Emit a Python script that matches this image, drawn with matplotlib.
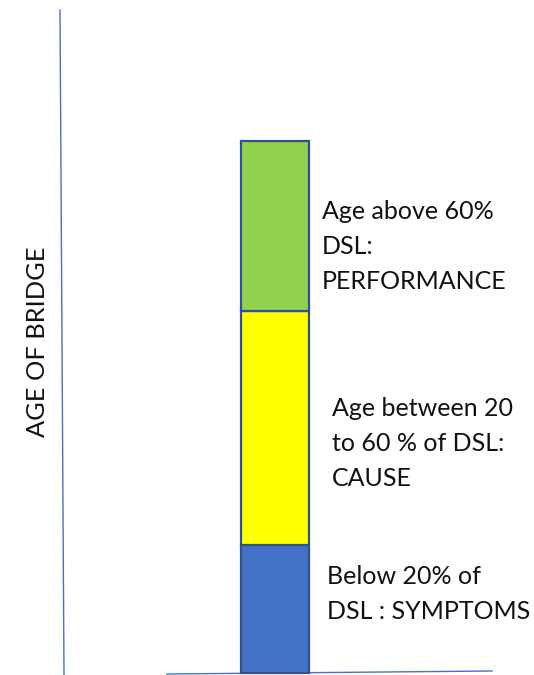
import matplotlib
matplotlib.use("Agg")
import matplotlib.pyplot as plt

# Data (segment heights in chart units, bottom to top)
segments = ["Below 20% of DSL", "Age between 20 to 60 % of DSL", "Age above 60% DSL"]
heights = [128, 234, 170]
colors = ["#4472C4", "#FFFF00", "#92D050"]
labels = ["Below 20% of\nDSL : SYMPTOMS",
          "Age between 20\nto 60 % of DSL:\nCAUSE",
          "Age above 60%\nDSL:\nPERFORMANCE"]
label_x = [327, 332, 322]
label_top = [565, 397, 200]   # pixel y of text top
ylabel = "AGE OF BRIDGE"

W, H = 534, 675
fig = plt.figure(figsize=(W / 100, H / 100), dpi=100)
ax = fig.add_axes([0, 0, 1, 1])
ax.set_xlim(0, W)
base_px = 673
ax.set_ylim(base_px - H, base_px)  # value 0 at pixel row base_px
ax.axis("off")

font = "Lato"
bottom = 0
for h, c in zip(heights, colors):
    ax.bar(275, h, width=68, bottom=bottom, color=c, edgecolor="#2F528F",
           linewidth=1.6, zorder=3)
    bottom += h

for txt, x, top in zip(labels, label_x, label_top):
    ax.text(x, base_px - top, txt, ha="left", va="top", fontsize=18,
            family=font, color="#111111", linespacing=1.62)

# axis lines (drawn freehand-style as in reference)
ax.plot([60, 64], [base_px - 10, base_px - 675], color="#4472C4", lw=1.0, zorder=2)
ax.plot([167, 492], [base_px - 674, base_px - 671], color="#4472C4", lw=1.0, zorder=2)

ax.text(38, base_px - 342, ylabel, rotation=90, ha="center", va="center",
        fontsize=18.3, family=font, color="#111111")

fig.savefig("out.png", dpi=100)
